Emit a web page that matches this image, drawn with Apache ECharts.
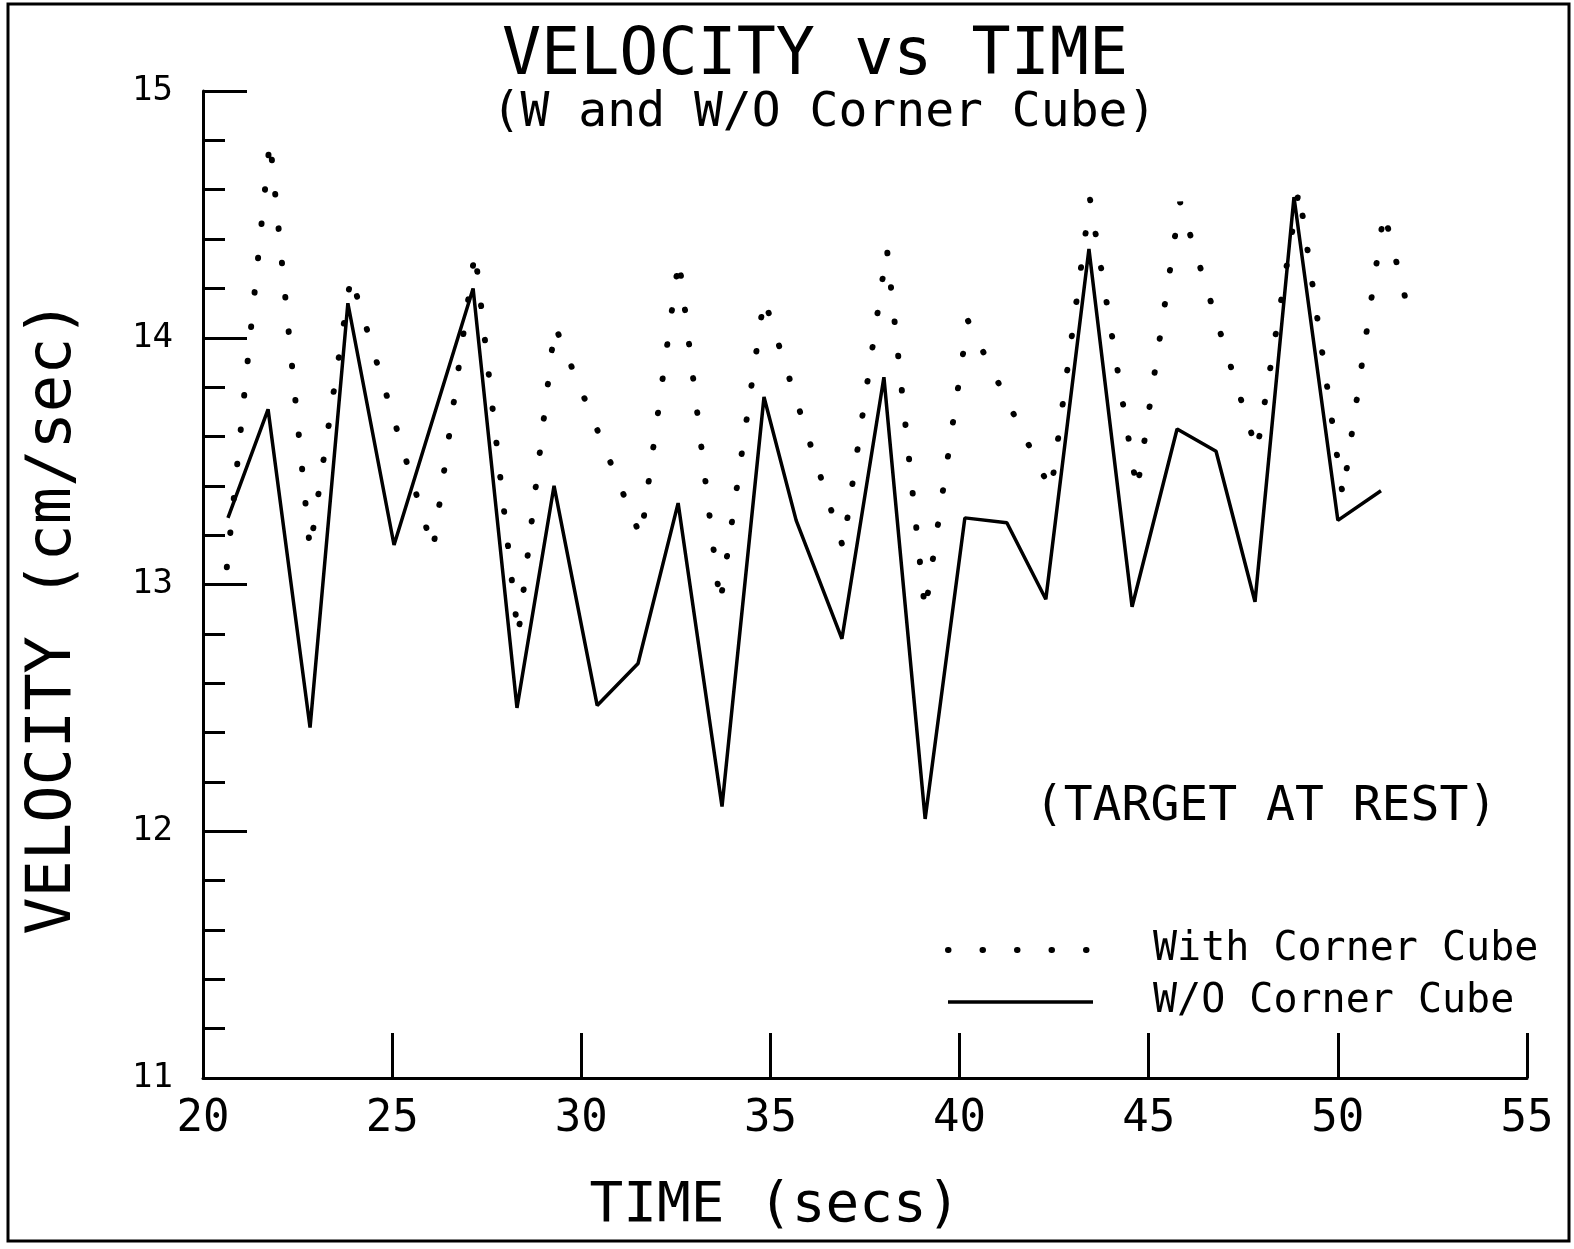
<!DOCTYPE html>
<html><head><meta charset="utf-8">
<script src="https://cdn.jsdelivr.net/npm/echarts@6/dist/echarts.min.js"></script>
<style>html,body{margin:0;padding:0;background:#fff}#c{width:1574px;height:1249px}</style>
</head><body><div id="c"></div>
<script>
// ---- data ----
const seriesNames = ['With Corner Cube', 'W/O Corner Cube'];
const timeWith = [20.63, 21.77, 22.83, 23.91, 26.08, 27.19, 28.33, 29.30, 31.58, 32.58, 33.67, 34.83, 36.92, 38.08, 39.09, 40.22, 42.42, 43.45, 44.69, 45.83, 47.86, 48.97, 50.13, 51.22, 51.93];
const velWith  = [13.07, 14.80, 13.14, 14.25, 13.14, 14.35, 12.79, 14.05, 13.19, 14.32, 12.92, 14.16, 13.15, 14.36, 12.89, 14.07, 13.38, 14.56, 13.38, 14.55, 13.54, 14.60, 13.36, 14.51, 14.07];
const timeWithout = [20.66, 21.72, 22.83, 23.83, 25.05, 27.14, 28.30, 29.28, 30.42, 31.50, 32.56, 33.72, 34.83, 35.68, 36.89, 38.00, 39.09, 40.14, 41.25, 42.28, 43.42, 44.56, 45.75, 46.78, 47.81, 48.84, 50.00, 51.14];
const velWithout  = [13.27, 13.71, 12.42, 14.14, 13.16, 14.20, 12.50, 13.40, 12.51, 12.68, 13.33, 12.10, 13.76, 13.26, 12.78, 13.84, 12.05, 13.27, 13.25, 12.94, 14.36, 12.91, 13.63, 13.54, 12.93, 14.57, 13.26, 13.38];
const titleText = 'VELOCITY vs TIME';
const subtitleText = '(W and W/O Corner Cube)';
const noteText = '(TARGET AT REST)';
const xName = 'TIME (secs)';
const yName = 'VELOCITY (cm/sec)';

const FONT = '"DejaVu Sans Mono", monospace';
const chart = echarts.init(document.getElementById('c'));
chart.setOption({
  animation: false,
  backgroundColor: '#fff',
  grid: { left: 203, top: 91, right: 47, bottom: 171 },
  xAxis: {
    type: 'value', min: 20, max: 55, interval: 5,
    name: xName, nameLocation: 'middle', nameGap: 100,
    nameTextStyle: { fontFamily: FONT, fontSize: 56, color: '#000', padding: [0, 180, 0, 0] },
    axisLine: { lineStyle: { color: '#000', width: 3 } },
    axisTick: { inside: true, length: 45, lineStyle: { color: '#000', width: 3 } },
    axisLabel: { color: '#000', fontFamily: FONT, fontSize: 44, margin: 20 },
    splitLine: { show: false }
  },
  yAxis: {
    type: 'value', min: 11, max: 15, interval: 1,
    name: yName, nameLocation: 'middle', nameGap: 118, nameRotate: 90,
    nameTextStyle: { fontFamily: FONT, fontSize: 62, color: '#000', padding: [0, 66, 0, 0] },
    axisLine: { lineStyle: { color: '#000', width: 3 } },
    axisTick: { inside: true, length: 44, lineStyle: { color: '#000', width: 3 } },
    minorTick: { show: true, splitNumber: 5, length: 22, lineStyle: { color: '#000', width: 3 } },
    axisLabel: { color: '#000', fontFamily: FONT, fontSize: 34, margin: 30 },
    splitLine: { show: false }, minorSplitLine: { show: false }
  },
  legend: {
    orient: 'vertical', left: 940, top: 925, itemWidth: 145, itemHeight: 20, itemGap: 12,
    data: seriesNames,
    itemStyle: { opacity: 0 },
    lineStyle: { width: 'inherit' },
    textStyle: { fontFamily: FONT, fontSize: 40, color: '#000', padding: [0, 0, 0, 55] }
  },
  series: [
    {
      name: seriesNames[0], type: 'line', symbol: 'none', showSymbol: false,
      data: timeWith.map((t, i) => [t, velWith[i]]),
      lineStyle: { color: '#000', width: 6, type: [0.5, 34], cap: 'round' },
      itemStyle: { color: '#000' }
    },
    {
      name: seriesNames[1], type: 'line', symbol: 'none', showSymbol: false,
      data: timeWithout.map((t, i) => [t, velWithout[i]]),
      lineStyle: { color: '#000', width: 3.5, type: 'solid' },
      itemStyle: { color: '#000' }
    }
  ],
  graphic: [
    { type: 'rect', shape: { x: 8, y: 4, width: 1561, height: 1237 }, style: { fill: 'none', stroke: '#000', lineWidth: 3 }, silent: true },
    { type: 'text', x: 815, y: 57, style: { text: titleText, fontFamily: FONT, fontSize: 65, fill: '#000', align: 'center', verticalAlign: 'middle' } },
    { type: 'text', x: 824, y: 114, style: { text: subtitleText, fontFamily: FONT, fontSize: 48, fill: '#000', align: 'center', verticalAlign: 'middle' } },
    { type: 'text', x: 1266, y: 808, style: { text: noteText, fontFamily: FONT, fontSize: 48, fill: '#000', align: 'center', verticalAlign: 'middle' } }
  ]
});
</script></body></html>
